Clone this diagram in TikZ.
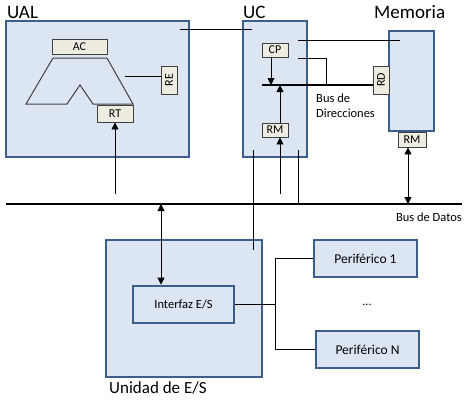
\documentclass[tikz,border=0pt]{standalone}
\usepackage{fontspec}
\setmainfont{Carlito}
\usetikzlibrary{arrows.meta,calc}
\definecolor{boxfill}{HTML}{DCE6F2}
\definecolor{boxline}{HTML}{3B5E8C}
\definecolor{regfill}{HTML}{EEECE1}
\definecolor{regline}{HTML}{404040}
\tikzset{
  unitbox/.style={draw=boxline,fill=boxfill,line width=2.2pt,inner sep=0pt},
  regbox/.style={draw=regline,fill=regfill,line width=0.9pt,inner sep=0pt,font=\fontsize{12}{13}\selectfont},
  periph/.style={draw=boxline,fill=boxfill,line width=2.2pt,inner sep=0pt,minimum width=103pt,minimum height=37pt,font=\fontsize{13.5}{15}\selectfont},
  title/.style={font=\fontsize{19}{21}\selectfont,inner sep=0pt,anchor=west},
  small/.style={font=\fontsize{12.5}{15}\selectfont,inner sep=0pt},
  wire/.style={line width=0.8pt,black},
  bus/.style={line width=2.6pt,black},
  arr/.style={line width=0.8pt,black,-{Triangle[length=7pt,width=7pt]}},
  darr/.style={line width=0.8pt,black,{Triangle[length=7pt,width=7pt]}-{Triangle[length=7pt,width=7pt]}}
}
\begin{document}
\begin{tikzpicture}[x=1pt,y=-1pt]
\useasboundingbox (0,0) rectangle (470,400);
% buses
\coordinate (busL) at (6,204);
\coordinate (busR) at (462,204);
% main units
\node[unitbox,minimum width=183pt,minimum height=136pt] (UAL) at (97.5,89) {};
\node[unitbox,minimum width=64pt,minimum height=136pt] (UC) at (275,89) {};
\node[unitbox,minimum width=45pt,minimum height=100pt] (MEM) at (411.5,81) {};
\node[unitbox,minimum width=156pt,minimum height=137pt] (UES) at (184,308.5) {};
% titles
\node[title] (tUAL) at (7,12) {UAL};
\node[title] (tUC) at (243,12) {UC};
\node[title] (tMEM) at (374,12) {Memoria};
\node[title,font=\fontsize{17}{19}\selectfont] (tUES) at (109,388) {Unidad de E/S};
% ALU shape
\draw[regline,line width=1pt] (53,58) -- (26,104) -- (67,104) -- (80,85) -- (93,104) -- (133,104) -- (107,58) -- cycle;
% registers
\node[regbox,minimum width=55pt,minimum height=15pt] (AC) at (79.5,46.5) {AC};
\node[regbox,minimum width=28pt,minimum height=16pt,rotate=90] (RE) at (169,80) {RE};
\node[regbox,minimum width=36pt,minimum height=17pt] (RT) at (115,113.5) {RT};
\node[regbox,minimum width=26pt,minimum height=14pt] (CP) at (275,50) {CP};
\node[regbox,minimum width=26pt,minimum height=14pt] (RMuc) at (275,130) {RM};
\node[regbox,minimum width=28pt,minimum height=16pt,rotate=90] (RD) at (381,80) {RD};
\node[regbox,minimum width=28pt,minimum height=15pt] (RMm) at (412,139.5) {RM};
% I/O
\node[draw=boxline,fill=boxfill,line width=2.8pt,inner sep=0pt,minimum width=101pt,minimum height=37pt,font=\fontsize{12.5}{14}\selectfont] (IF) at (183.5,304.5) {Interfaz E/S};
\node[periph] (P1) at (365.5,258.5) {Periférico 1};
\node[periph] (PN) at (367.5,349.5) {Periférico N};
\node[small,font=\fontsize{12}{14}\selectfont] (dots) at (367,305) {...};
% bus labels
\node[small,anchor=east] (lDatos) at (462,217) {Bus de Datos};
\node[small,anchor=west,align=left] (lDir) at (316,106) {Bus de\\Direcciones};
% data bus
\draw[bus] (busL) -- (busR);
% address bus
\coordinate (abL) at (262,85);
\coordinate (abR) at ([xshift=-8pt,yshift=-5pt]RD.center);
\draw[bus] (abL) -- (abR);
% connectors
\coordinate (ualC) at (180,29);
\coordinate (ucC) at (252,29);
\draw[wire] (ualC) -- (ucC);
\coordinate (reC) at (125,76);
\draw[wire] (reC) -- ([xshift=-8pt]RE.center |- reC);
\draw[arr] (RT.south |- 0,194) -- (RT.south);
\draw[arr] ([xshift=-4pt]CP.south) -- ([xshift=-4pt]CP.south |- abL);
\draw[arr] ([xshift=5pt]RMuc.north) -- ([xshift=5pt]RMuc.north |- abL);
\draw[arr] ([xshift=5pt]RMuc.south |- 0,194) -- ([xshift=5pt]RMuc.south);
\coordinate (uc1) at (298,40);
\coordinate (mem1) at (400,40);
\draw[wire] (uc1) -- (mem1);
\coordinate (uc2) at (298,58);
\draw[wire] (uc2) -- (326,58) -- (326,85);
\coordinate (uc3) at (253,150);
\coordinate (ues1) at (253,250);
\draw[wire] (uc3) -- (ues1);
\coordinate (uc4) at (298,150);
\draw[wire] (uc4) -- (uc4 |- busL);
\draw[darr] ([xshift=-4pt]RMm.south) -- ([xshift=-4pt]RMm.south |- busL);
\draw[darr] (161,204) -- (161,0 |- IF.north);
\coordinate (jn) at (275,304.5);
\draw[wire] (IF.east) -- (jn);
\draw[wire] (P1.west) -| (jn);
\draw[wire] (PN.west) -| (jn);
\end{tikzpicture}
\end{document}
